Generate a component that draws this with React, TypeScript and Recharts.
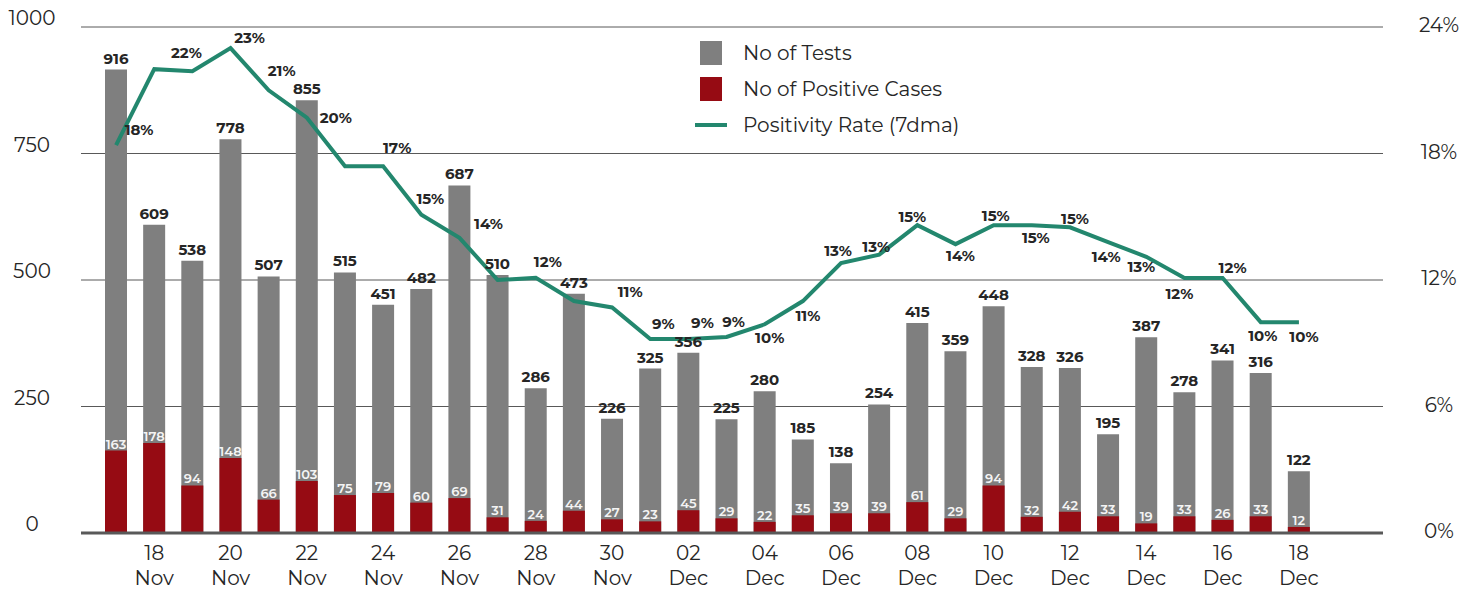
import { ComposedChart, XAxis, YAxis, CartesianGrid, Bar, Line, LabelList, Legend } from 'recharts';

const FONT = 'Montserrat, Inter, "Noto Sans", sans-serif';
const TEXT = '#262626';

// 17 Nov .. 18 Dec
const dates = [
  '17 Nov', '18 Nov', '19 Nov', '20 Nov', '21 Nov', '22 Nov', '23 Nov', '24 Nov',
  '25 Nov', '26 Nov', '27 Nov', '28 Nov', '29 Nov', '30 Nov', '01 Dec', '02 Dec',
  '03 Dec', '04 Dec', '05 Dec', '06 Dec', '07 Dec', '08 Dec', '09 Dec', '10 Dec',
  '11 Dec', '12 Dec', '13 Dec', '14 Dec', '15 Dec', '16 Dec', '17 Dec', '18 Dec',
];
const tests = [
  916, 609, 538, 778, 507, 855, 515, 451, 482, 687, 510, 286, 473, 226, 325, 356,
  225, 280, 185, 138, 254, 415, 359, 448, 328, 326, 195, 387, 278, 341, 316, 122,
];
const positives = [
  163, 178, 94, 148, 66, 103, 75, 79, 60, 69, 31, 24, 44, 27, 23, 45,
  29, 22, 35, 39, 39, 61, 29, 94, 32, 42, 33, 19, 33, 26, 33, 12,
];
// positivity rate, 7 day moving average, in %
const positivityRate = [
  18.4, 22.0, 21.9, 23.0, 21.0, 19.7, 17.4, 17.4, 15.1, 14.0, 12.0, 12.1, 11.0, 10.7, 9.2, 9.2,
  9.3, 9.9, 11.0, 12.8, 13.2, 14.6, 13.7, 14.6, 14.6, 14.5, 13.8, 13.1, 12.1, 12.1, 10.0, 10.0,
];
const countTicks = [0, 250, 500, 750, 1000];
const rateTicks = [0, 6, 12, 18, 24];

// where each rate label sits relative to its point (null = not shown)
const rateLabelOffset: ([number, number] | null)[] = [
  [23, -15], null, [-6, -18], [19, -10], [13, -19], [29, 0], null, [14, -18],
  [9, -16], [29, -14], null, [12, -16], null, [18, -15], [13, -15], [14, -16],
  [7, -15], [5, 14], [5, 15], [-3, -12], [-3, -8], [-5, -8], [5, 12], [2, -9],
  [4, 13], [5, -8], [-2, 15], [-5, 10], [-5, 16], [10, -10], [2, 14], [5, 15],
];

const data = dates.map((date, i) => ({
  date,
  tests: tests[i],
  positives: positives[i],
  rate: positivityRate[i],
}));

const DateTick = (props: any) => {
  const { x, y, payload, index } = props;
  if (index % 2 === 0) return null;
  const [day, month] = String(payload.value).split(' ');
  return (
    <g>
      <text x={x} y={y + 27} textAnchor="middle" fill={TEXT} fontSize={20} fontFamily={FONT}>{day}</text>
      <text x={x} y={y + 52} textAnchor="middle" fill={TEXT} fontSize={20} fontFamily={FONT}>{month}</text>
    </g>
  );
};

const CountTick = (props: any) => {
  const { x, y, payload } = props;
  return (
    <text x={x - 49} y={y - 2} textAnchor="middle" fill={TEXT} fontSize={20} fontFamily={FONT}>
      {payload.value}
    </text>
  );
};

const RateTick = (props: any) => {
  const { x, y, payload } = props;
  return (
    <text x={x + 56} y={y + 5} textAnchor="middle" fill={TEXT} fontSize={20} fontFamily={FONT}>
      {payload.value}%
    </text>
  );
};

const RateLabel = (props: any) => {
  const { index, value } = props;
  const x = props.viewBox?.x ?? props.x;
  const y = props.viewBox?.y ?? props.y;
  const off = rateLabelOffset[index];
  if (!off) return null;
  return (
    <text x={x + off[0]} y={y + off[1]} dy={5} textAnchor="middle" fill={TEXT}
      fontSize={15} fontWeight={700} fontFamily={FONT}>
      {Math.round(value)}%
    </text>
  );
};

const LegendBox = () => {
  const row = { display: 'flex', alignItems: 'center', height: 36 } as const;
  const icon = { width: 32, display: 'flex', justifyContent: 'center', marginRight: 16 } as const;
  const label = { fontSize: 20, color: TEXT, fontFamily: FONT, whiteSpace: 'nowrap' } as const;
  return (
    <div>
      <div style={row}>
        <div style={icon}><div style={{ width: 22, height: 24, background: '#7f7f7f' }} /></div>
        <span style={label}>No of Tests</span>
      </div>
      <div style={row}>
        <div style={icon}><div style={{ width: 22, height: 24, background: '#960b13' }} /></div>
        <span style={label}>No of Positive Cases</span>
      </div>
      <div style={row}>
        <div style={icon}><div style={{ width: 32, height: 4, background: '#23876e' }} /></div>
        <span style={label}>Positivity Rate (7dma)</span>
      </div>
    </div>
  );
};

export default function App() {
  return (
    <div style={{ position: 'absolute', left: 0, top: 0, fontFamily: FONT }}>
      <ComposedChart
        width={1476}
        height={589}
        data={data}
        margin={{ top: 27, right: 0, bottom: 0, left: 0 }}
        barGap={-22}
      >
        <CartesianGrid vertical={false} stroke="#595959" strokeWidth={1} />
        <XAxis
          dataKey="date"
          interval={0}
          height={56}
          tickLine={false}
          tickSize={0}
          tickMargin={0}
          axisLine={{ stroke: '#595959', strokeWidth: 3 }}
          padding={{ left: 16, right: 65 }}
          tick={<DateTick />}
        />
        <YAxis
          width={81}
          domain={[0, 1000]}
          ticks={countTicks}
          axisLine={false}
          tickLine={false}
          tickSize={0}
          tickMargin={0}
          tick={<CountTick />}
        />
        <YAxis
          yAxisId="rate"
          orientation="right"
          width={93}
          domain={[0, 24]}
          ticks={rateTicks}
          axisLine={false}
          tickLine={false}
          tickSize={0}
          tickMargin={0}
          tick={<RateTick />}
        />
        <Legend
          layout="vertical"
          align="center"
          verticalAlign="middle"
          wrapperStyle={{ top: 35, left: 695, width: 'auto' }}
          content={<LegendBox />}
        />
        <Bar dataKey="tests" name="No of Tests" fill="#7f7f7f" barSize={22} isAnimationActive={false}>
          <LabelList dataKey="tests" position="top" offset={6} fill={TEXT} fontSize={15}
            fontWeight={700} fontFamily={FONT} />
        </Bar>
        <Bar dataKey="positives" name="No of Positive Cases" fill="#960b13" barSize={22} isAnimationActive={false}>
          <LabelList dataKey="positives" position="top" offset={2} fill="#f4f4f4" fontSize={13}
            fontWeight={600} fontFamily={FONT} />
        </Bar>
        <Line
          yAxisId="rate"
          type="linear"
          dataKey="rate"
          name="Positivity Rate (7dma)"
          stroke="#23876e"
          strokeWidth={4}
          dot={false}
          isAnimationActive={false}
        >
          <LabelList dataKey="rate" content={<RateLabel />} />
        </Line>
      </ComposedChart>
    </div>
  );
}
